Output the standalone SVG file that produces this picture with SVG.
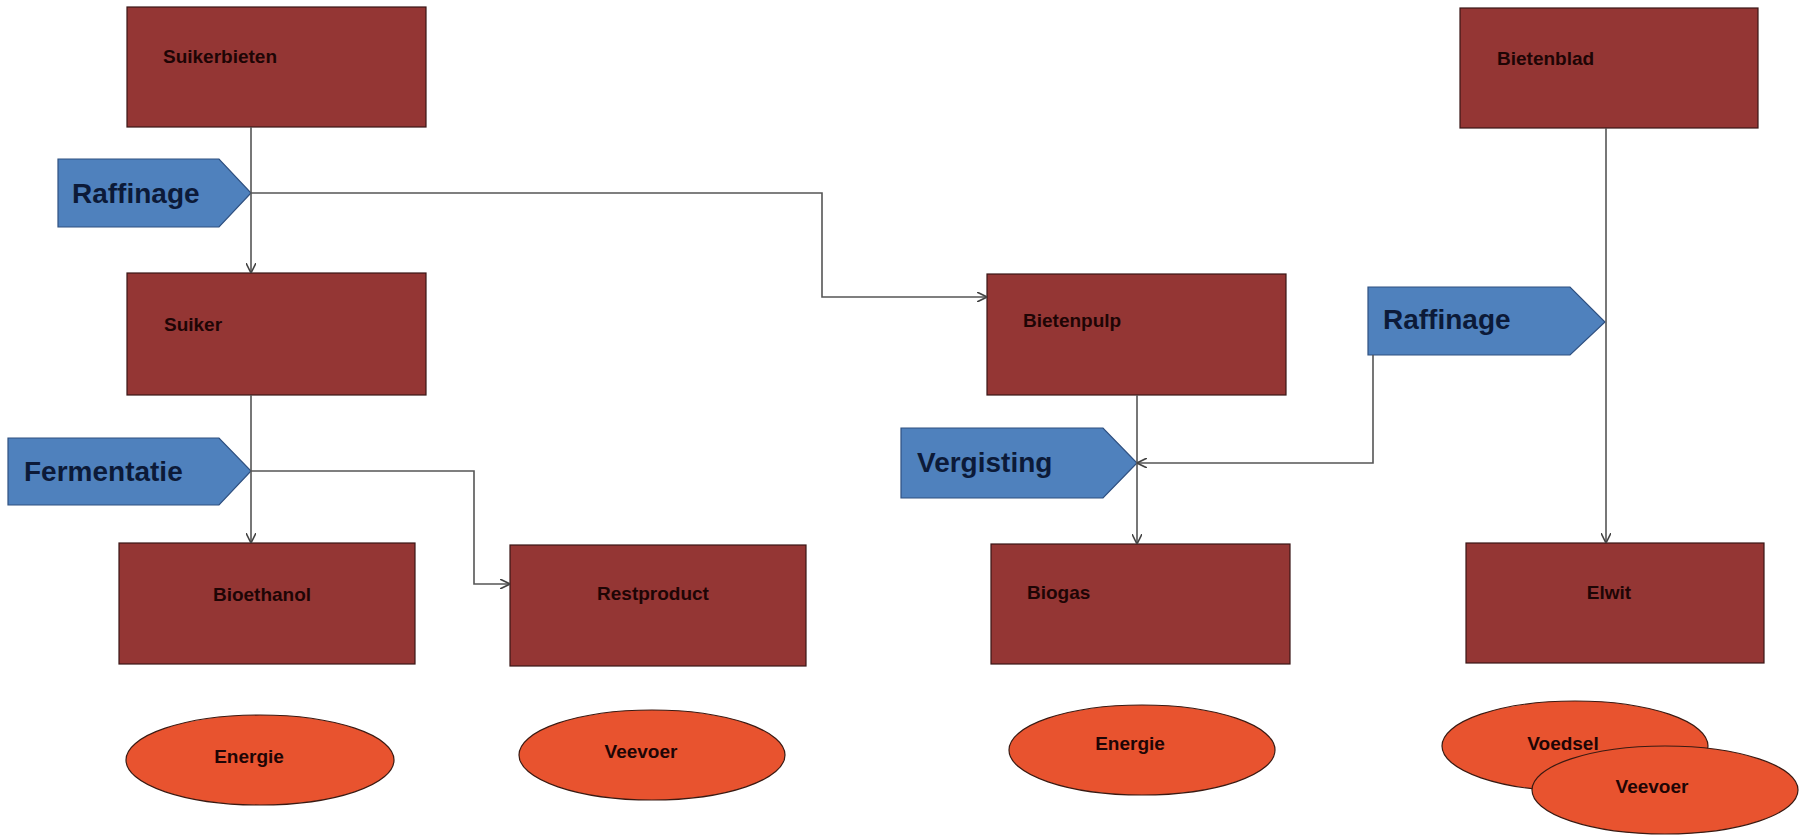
<svg xmlns="http://www.w3.org/2000/svg" width="1806" height="835" viewBox="0 0 1806 835">
<style>
.box{fill:#943634;stroke:#3a1616;stroke-width:1.2}
.ell{fill:#e8532f;stroke:#3a1a12;stroke-width:1.2}
.pent{fill:#4f81bd;stroke:#2f5080;stroke-width:1.2}
.bt{font-family:"Liberation Sans",Arial,sans-serif;font-weight:bold;font-size:19px;fill:#1e0505}
.pt{font-family:"Liberation Sans",Arial,sans-serif;font-weight:bold;font-size:28px;fill:#0c1a38}
.con{fill:none;stroke:#555;stroke-width:1.6}
</style>
<defs>
<marker id="arr" viewBox="0 0 10 10" refX="10" refY="5" markerWidth="10" markerHeight="10" markerUnits="userSpaceOnUse" orient="auto">
<path d="M0,0 L10,5 L0,10" fill="none" stroke="#444" stroke-width="1.6"/>
</marker>
</defs>
<rect width="1806" height="835" fill="#ffffff"/>

<g id="suikerbieten"><rect class="box" x="127" y="7" width="299" height="120"/><text class="bt" x="163" y="63">Suikerbieten</text></g>
<g id="suiker"><rect class="box" x="127" y="273" width="299" height="122"/><text class="bt" x="164" y="331">Suiker</text></g>
<g id="bioethanol"><rect class="box" x="119" y="543" width="296" height="121"/><text class="bt" x="262" y="601" text-anchor="middle">Bioethanol</text></g>
<g id="restproduct"><rect class="box" x="510" y="545" width="296" height="121"/><text class="bt" x="653" y="600" text-anchor="middle">Restproduct</text></g>
<g id="bietenpulp"><rect class="box" x="987" y="274" width="299" height="121"/><text class="bt" x="1023" y="327">Bietenpulp</text></g>
<g id="biogas"><rect class="box" x="991" y="544" width="299" height="120"/><text class="bt" x="1027" y="599">Biogas</text></g>
<g id="bietenblad"><rect class="box" x="1460" y="8" width="298" height="120"/><text class="bt" x="1497" y="65">Bietenblad</text></g>
<g id="elwit"><rect class="box" x="1466" y="543" width="298" height="120"/><text class="bt" x="1609" y="599" text-anchor="middle">Elwit</text></g>

<g id="raffinage1"><path class="pent" d="M58,159 L219,159 L251,193 L219,227 L58,227 Z"/><text class="pt" x="72" y="203">Raffinage</text></g>
<g id="fermentatie"><path class="pent" d="M8,438 L219,438 L251,471 L219,505 L8,505 Z"/><text class="pt" x="24" y="481">Fermentatie</text></g>
<g id="vergisting"><path class="pent" d="M901,428 L1103,428 L1137,463 L1103,498 L901,498 Z"/><text class="pt" x="917" y="472">Vergisting</text></g>
<g id="raffinage2"><path class="pent" d="M1368,287 L1570,287 L1605,322 L1570,355 L1368,355 Z"/><text class="pt" x="1383" y="329">Raffinage</text></g>

<g id="energie1"><ellipse class="ell" cx="260" cy="760" rx="134" ry="45"/><text class="bt" x="249" y="763" text-anchor="middle">Energie</text></g>
<g id="veevoer1"><ellipse class="ell" cx="652" cy="755" rx="133" ry="45"/><text class="bt" x="641" y="758" text-anchor="middle">Veevoer</text></g>
<g id="energie2"><ellipse class="ell" cx="1142" cy="750" rx="133" ry="45"/><text class="bt" x="1130" y="750" text-anchor="middle">Energie</text></g>
<g id="voedsel"><ellipse class="ell" cx="1575" cy="746" rx="133" ry="45"/><text class="bt" x="1563" y="750" text-anchor="middle">Voedsel</text></g>
<g id="veevoer2"><ellipse class="ell" cx="1665" cy="790" rx="133" ry="44"/><text class="bt" x="1652" y="793" text-anchor="middle">Veevoer</text></g>

<g id="connectors">
<path class="con" d="M251,127 V273" marker-end="url(#arr)"/>
<path class="con" d="M251,193 H822 V297 H987" marker-end="url(#arr)"/>
<path class="con" d="M251,395 V543" marker-end="url(#arr)"/>
<path class="con" d="M251,471 H474 V584 H510" marker-end="url(#arr)"/>
<path class="con" d="M1137,395 V544" marker-end="url(#arr)"/>
<path class="con" d="M1373,355 V463 H1137" marker-end="url(#arr)"/>
<path class="con" d="M1606,128 V543" marker-end="url(#arr)"/>
</g>
</svg>
